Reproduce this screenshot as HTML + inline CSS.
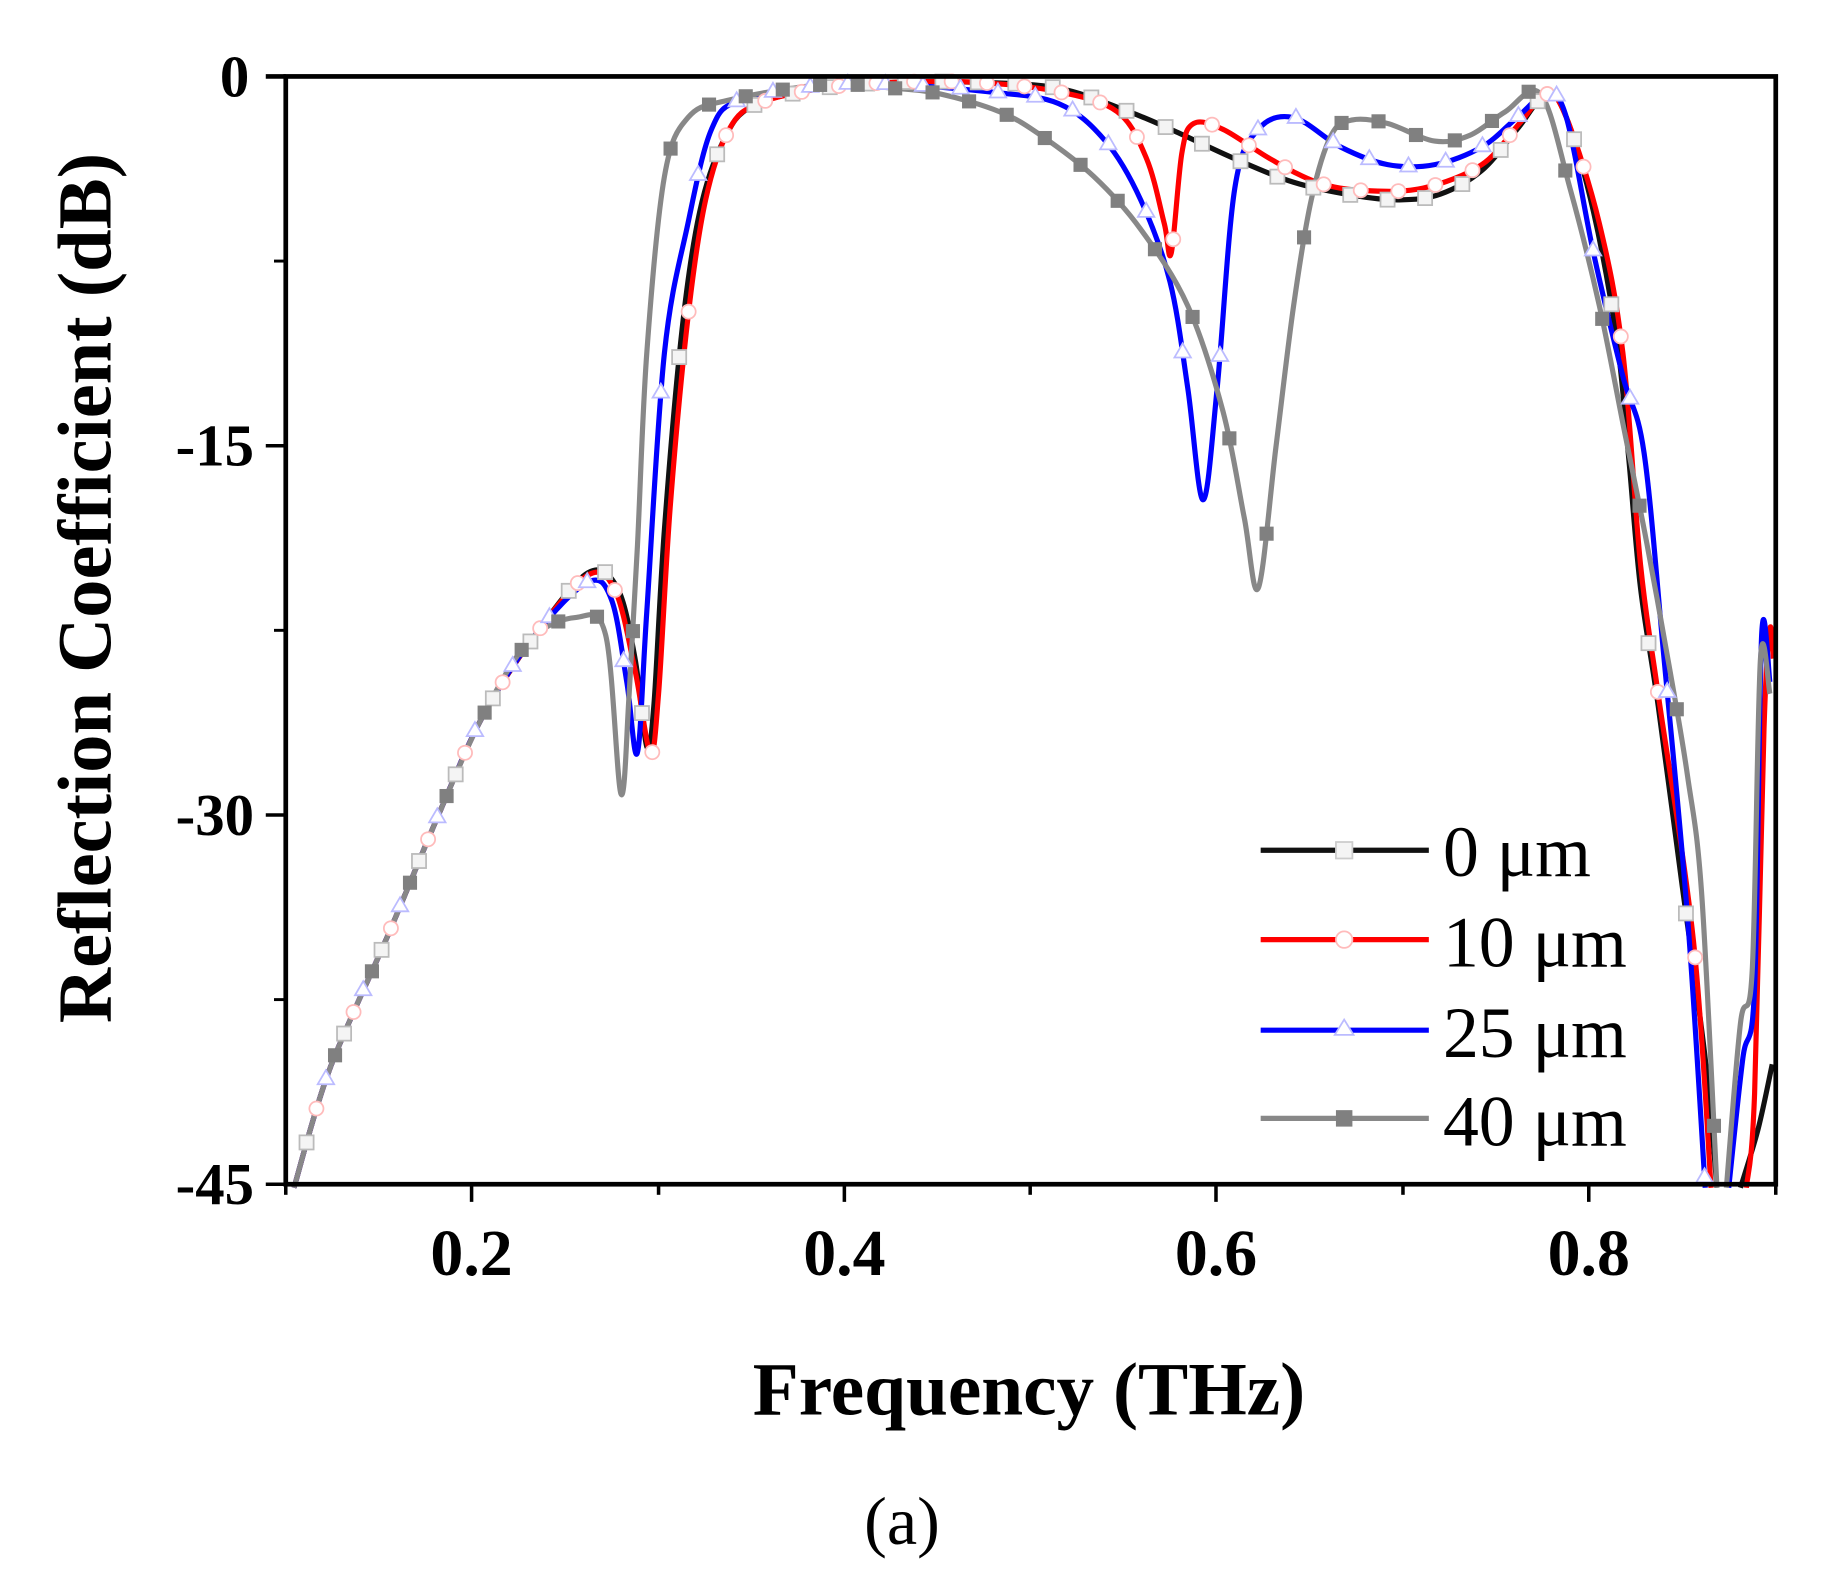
<!DOCTYPE html>
<html><head><meta charset="utf-8"><style>
html,body{margin:0;padding:0;background:#fff;}
svg{display:block;}
text{font-family:"Liberation Serif",serif;}
</style></head><body>
<svg id="s" width="1844" height="1595" viewBox="0 0 1844 1595" xmlns="http://www.w3.org/2000/svg">
<g id="g" transform="scale(1.176)">
<g id="curves" fill="none" stroke-width="4.4" stroke-linejoin="round"></g>
<g id="marks"></g>
<rect x="243" y="65" width="1267" height="942" fill="none" stroke="#000" stroke-width="4"/>
<line x1="226" y1="65" x2="243" y2="65" stroke="#000" stroke-width="4"/>
<line x1="226" y1="379" x2="243" y2="379" stroke="#000" stroke-width="3"/>
<line x1="226" y1="693" x2="243" y2="693" stroke="#000" stroke-width="3"/>
<line x1="226" y1="1007" x2="243" y2="1007" stroke="#000" stroke-width="3"/>
<line x1="233" y1="222" x2="243" y2="222" stroke="#000" stroke-width="2.5"/>
<line x1="233" y1="536" x2="243" y2="536" stroke="#000" stroke-width="2.5"/>
<line x1="233" y1="850" x2="243" y2="850" stroke="#000" stroke-width="2.5"/>
<g stroke="#000" stroke-width="3">
<line x1="401" y1="1007" x2="401" y2="1022"/><line x1="718" y1="1007" x2="718" y2="1022"/>
<line x1="1034" y1="1007" x2="1034" y2="1022"/><line x1="1351" y1="1007" x2="1351" y2="1022"/>
<line x1="243" y1="1007" x2="243" y2="1016"/><line x1="560" y1="1007" x2="560" y2="1016"/>
<line x1="876" y1="1007" x2="876" y2="1016"/><line x1="1193" y1="1007" x2="1193" y2="1016"/>
<line x1="1510" y1="1007" x2="1510" y2="1016"/>
</g>
<g font-weight="bold" font-size="50" text-anchor="end">
<text x="212" y="82">0</text><text x="216" y="396">-15</text>
<text x="216" y="710">-30</text><text x="216" y="1024">-45</text>
</g>
<g font-weight="bold" font-size="56" text-anchor="middle">
<text x="401" y="1084">0.2</text><text x="718" y="1084">0.4</text>
<text x="1034" y="1084">0.6</text><text x="1351" y="1084">0.8</text>
</g>
<text x="875" y="1203" font-weight="bold" font-size="64" text-anchor="middle">Frequency (THz)</text>
<text transform="translate(94,500) rotate(-90)" font-weight="bold" font-size="65" text-anchor="middle">Reflection Coefficient (dB)</text>
<text x="767" y="1313" font-size="58" text-anchor="middle">(a)</text>
<g stroke-width="4.4">
<line x1="1072" y1="723" x2="1215" y2="723" stroke="#111"/>
<rect x="1136" y="716" width="14" height="14" fill="#f4f4f4" stroke="#ccc" stroke-width="1.5"/>
<line x1="1072" y1="799" x2="1215" y2="799" stroke="#f00"/>
<circle cx="1143" cy="799" r="7" fill="#fff" stroke="#fbb" stroke-width="1.5"/>
<line x1="1072" y1="876" x2="1215" y2="876" stroke="#00f"/>
<path d="M1143 867 L1151 880 L1135 880 Z" fill="#fff" stroke="#bbf" stroke-width="1.5"/>
<line x1="1072" y1="951" x2="1215" y2="951" stroke="#888"/>
<rect x="1136" y="944" width="14" height="14" fill="#808080"/>
</g>
<g font-size="61">
<text x="1227" y="745">0 μm</text><text x="1227" y="822">10 μm</text>
<text x="1227" y="899">25 μm</text><text x="1227" y="974">40 μm</text>
</g>
</g>
</svg>
<script>
var common=[[250,1010],[280,910],[330,795],[372,695],[410,610],[455,540]];
var S=[
{c:"#111",m:"sq",f:"#f4f4f4",p:common.concat([[500,487],[525,500],[540,560],[550,635],[556,600],[565,450],[580,280],[595,180],[615,120],[640,90],[700,75],[760,70],[830,70],[900,75],[960,95],[1000,112],[1050,135],[1100,155],[1150,166],[1190,170],[1225,165],[1260,145],[1290,110],[1315,80],[1332,100],[1355,180],[1375,290],[1385,390],[1395,500],[1410,600],[1430,750],[1450,900],[1460,1010]])},
{c:"#f00",m:"ci",f:"#fff",p:common.concat([[500,489],[523,502],[540,570],[553,640],[560,590],[570,430],[585,270],[600,170],[620,110],[645,88],[700,75],[760,70],[830,70],[900,78],[950,95],[975,135],[990,190],[996,215],[1005,130],[1015,105],[1040,110],[1080,135],[1120,155],[1160,162],[1210,160],[1260,140],[1292,105],[1315,80],[1332,100],[1360,190],[1380,300],[1395,480],[1410,590],[1440,800],[1455,1010]])},
{c:"#00f",m:"tr",f:"#fff",p:common.concat([[500,495],[520,510],[533,580],[542,640],[550,520],[565,300],[585,190],[605,110],[630,85],[700,73],[760,72],[840,78],[900,88],[940,120],[970,170],[995,240],[1010,330],[1023,425],[1035,330],[1050,160],[1070,110],[1100,100],[1140,125],[1180,140],[1220,140],[1260,125],[1290,100],[1315,80],[1332,100],[1355,215],[1380,320],[1398,385],[1415,560],[1435,780],[1450,1010]])},
{c:"#888",m:"fs",f:"#808080",p:[[250,1010],[280,910],[330,795],[372,695],[410,610],[450,545],[490,525],[515,540],[528,675],[535,590],[542,465],[550,300],[565,150],[585,100],[620,85],[700,72],[760,75],[800,80],[850,95],[885,115],[930,150],[970,195],[1010,260],[1040,350],[1058,440],[1070,500],[1085,380],[1100,260],[1115,170],[1132,115],[1150,102],[1180,105],[1220,120],[1250,115],[1280,95],[1310,80],[1335,160],[1360,260],[1380,360],[1400,460],[1420,570],[1435,660],[1447,760],[1460,1010]]}
];
var NS="http://www.w3.org/2000/svg";
function cr(p){var d="M"+p[0][0]+" "+p[0][1];for(var i=0;i<p.length-1;i++){var a=p[i-1]||p[i],b=p[i],c=p[i+1],e=p[i+2]||c;d+=" C"+(b[0]+(c[0]-a[0])/6)+" "+(b[1]+(c[1]-a[1])/6)+" "+(c[0]-(e[0]-b[0])/6)+" "+(c[1]-(e[1]-b[1])/6)+" "+c[0]+" "+c[1];}return d;}
var cg=document.getElementById("curves"),mg=document.getElementById("marks");
var extras=[
 {c:"#111",p:[[1480,1010],[1495,960],[1507,905]]},
 {c:"#f00",p:[[1485,1010],[1492,930],[1500,620],[1505,535],[1508,560]]},
 {c:"#00f",p:[[1470,1010],[1482,900],[1492,840],[1498,540],[1505,580]]},
 {c:"#888",p:[[1468,1010],[1480,870],[1490,825],[1497,560],[1505,590]]}];
S.forEach(function(s,k){
 var path=document.createElementNS(NS,"path");path.setAttribute("d",cr(s.p));path.setAttribute("stroke",s.c);cg.appendChild(path);
 var e=document.createElementNS(NS,"path");e.setAttribute("d",cr(extras[k].p));e.setAttribute("stroke",s.c);cg.appendChild(e);
 var L=path.getTotalLength(),pts=[];for(var l=0;l<=L;l+=2)pts.push(path.getPointAtLength(l));
 var off=[0,8,16,24][k];
 for(var x=262+off;x<1460;x+=31.7){
  var best=null;for(var j=0;j<pts.length;j++){if(Math.abs(pts[j].x-x)<1.5){best=pts[j];break;}}
  if(!best)continue;
  var el;
  if(s.m=="ci"){el=document.createElementNS(NS,"circle");el.setAttribute("cx",best.x);el.setAttribute("cy",best.y);el.setAttribute("r",6);el.setAttribute("fill","#fff");el.setAttribute("stroke","#fbb");}
  else if(s.m=="tr"){el=document.createElementNS(NS,"path");el.setAttribute("d","M"+best.x+" "+(best.y-8)+" l7 12 l-14 0 z");el.setAttribute("fill","#fff");el.setAttribute("stroke","#bbf");}
  else{el=document.createElementNS(NS,"rect");el.setAttribute("x",best.x-6);el.setAttribute("y",best.y-6);el.setAttribute("width",12);el.setAttribute("height",12);el.setAttribute("fill",s.f);el.setAttribute("stroke",s.m=="sq"?"#bbb":"none");}
  el.setAttribute("stroke-width","1.5");mg.appendChild(el);
 }
});
</script>
</body></html>
